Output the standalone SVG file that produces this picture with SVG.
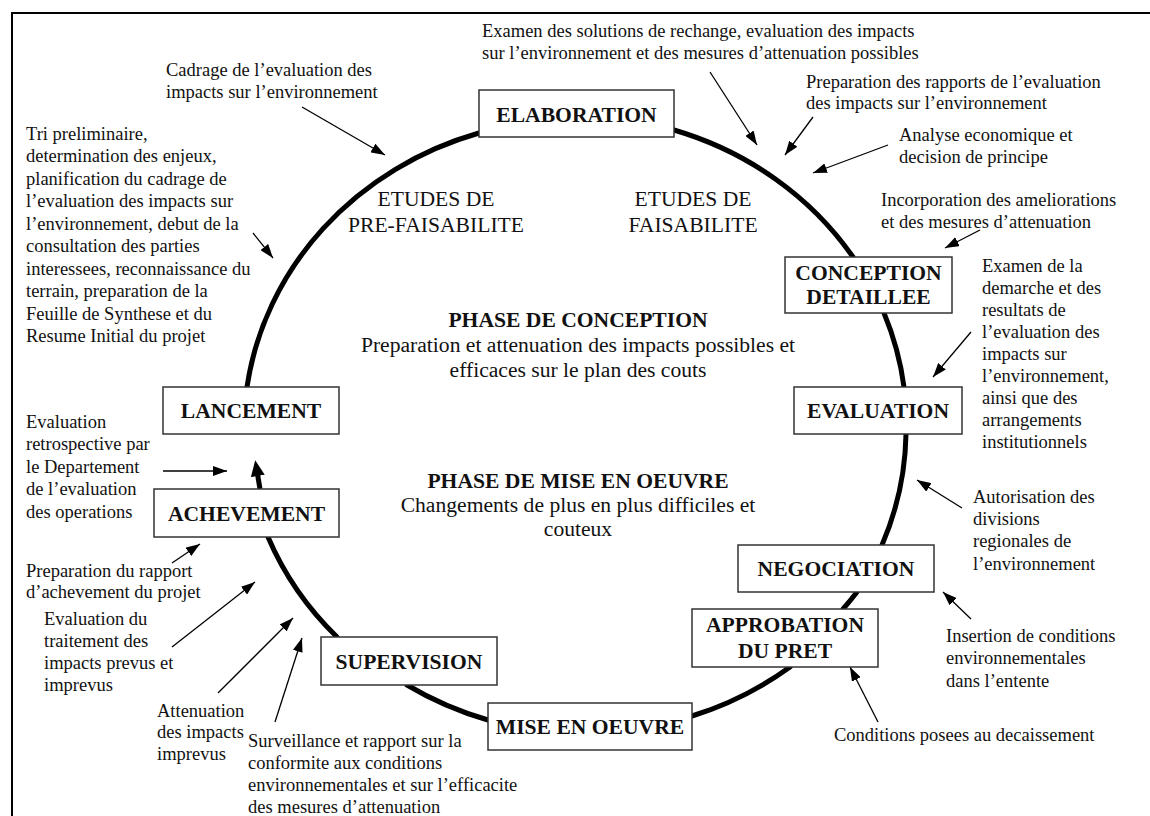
<svg xmlns="http://www.w3.org/2000/svg" width="1150" height="816" viewBox="0 0 1150 816">
<style>
text{font-family:"Liberation Serif","Times New Roman",serif;fill:#111}
.ann{font-size:18.5px}
.big{font-size:21.6px;text-anchor:middle}
.lbl{font-size:21.6px;font-weight:bold;text-anchor:middle}
.head{font-size:21.6px;font-weight:bold;text-anchor:middle}
.box{fill:#fff;stroke:#333;stroke-width:1.5}
.ring{fill:none;stroke:#000;stroke-width:5;stroke-linecap:round}
.arr{fill:none;stroke:#000;stroke-width:1.3;marker-end:url(#ah)}
</style>
<defs>
<marker id="ah" markerUnits="userSpaceOnUse" markerWidth="14" markerHeight="10" refX="14" refY="5" orient="auto"><path d="M0,0 L14,5 L0,10 z" fill="#000"/></marker>
<marker id="rh" markerUnits="userSpaceOnUse" markerWidth="16" markerHeight="14" refX="2" refY="7" orient="auto"><path d="M0,0 L16,7 L0,14 z" fill="#000"/></marker>
</defs>
<rect width="1150" height="816" fill="#fff"/>
<path d="M12,816 L12,13 L1150,13" fill="none" stroke="#000" stroke-width="2"/>

<g id="connectors">
<path class="ring" d="M247,387 A332,310 0 0 1 479,133"/>
<path class="ring" d="M674,130 A332,310 0 0 1 853,257"/>
<path class="ring" d="M884,313 A332,310 0 0 1 904,387"/>
<path class="ring" d="M906,434 A332,310 0 0 1 882,545"/>
<path class="ring" d="M857,592 A332,310 0 0 1 843,609"/>
<path class="ring" d="M790,667 A332,310 0 0 1 692,716"/>
<path class="ring" d="M488,720 A332,310 0 0 1 407,685"/>
<path class="ring" d="M337,637 A332,310 0 0 1 268,537"/>
<path d="M260,489 L257.5,474" fill="none" stroke="#000" stroke-width="5" marker-end="url(#rh)"/>
<path class="arr" d="M302,107 L385,155"/>
<path class="arr" d="M253,233 L273,258"/>
<path class="arr" d="M710,72 L757,145"/>
<path class="arr" d="M813,117 L785,155"/>
<path class="arr" d="M888,145 L813,173"/>
<path class="arr" d="M980,230 L945,248"/>
<path class="arr" d="M971,332 L933,377"/>
<path class="arr" d="M962,508 L917,480"/>
<path class="arr" d="M971,619 L943,592"/>
<path class="arr" d="M878,722 L850,667"/>
<path class="arr" d="M163,471 L227,471"/>
<path class="arr" d="M172,563 L200,544"/>
<path class="arr" d="M172,647 L255,582"/>
<path class="arr" d="M218,693 L293,618"/>
<path class="arr" d="M275,722 L302,638"/>
</g>

<g id="n-elaboration"><rect class="box" x="479" y="90" width="195" height="47"/><text class="lbl" x="576.5" y="121.5">ELABORATION</text></g>
<g id="n-conception"><rect class="box" x="785" y="257" width="167" height="56"/><text class="lbl" x="868.5" y="280">CONCEPTION</text><text class="lbl" x="868.5" y="304">DETAILLEE</text></g>
<g id="n-evaluation"><rect class="box" x="794" y="387" width="168" height="47"/><text class="lbl" x="878" y="418">EVALUATION</text></g>
<g id="n-negociation"><rect class="box" x="738" y="545" width="196" height="47"/><text class="lbl" x="836" y="576">NEGOCIATION</text></g>
<g id="n-approbation"><rect class="box" x="692" y="609" width="186" height="58"/><text class="lbl" x="785" y="632">APPROBATION</text><text class="lbl" x="785" y="658">DU PRET</text></g>
<g id="n-mise"><rect class="box" x="488" y="703" width="204" height="47"/><text class="lbl" x="590" y="734">MISE EN OEUVRE</text></g>
<g id="n-supervision"><rect class="box" x="321" y="637" width="176" height="48"/><text class="lbl" x="409" y="669">SUPERVISION</text></g>
<g id="n-achevement"><rect class="box" x="154" y="489" width="185" height="48"/><text class="lbl" x="246.5" y="521">ACHEVEMENT</text></g>
<g id="n-lancement"><rect class="box" x="163" y="387" width="176" height="47"/><text class="lbl" x="251" y="418">LANCEMENT</text></g>

<g id="center-texts">
<text class="big" x="436" y="206">ETUDES DE</text>
<text class="big" x="436" y="232">PRE-FAISABILITE</text>
<text class="big" x="693" y="206">ETUDES DE</text>
<text class="big" x="693" y="232">FAISABILITE</text>
<text class="head" x="578" y="327">PHASE DE CONCEPTION</text>
<text class="big" x="578" y="352">Preparation et attenuation des impacts possibles et</text>
<text class="big" x="578" y="377">efficaces sur le plan des couts</text>
<text class="head" x="578" y="488">PHASE DE MISE EN OEUVRE</text>
<text class="big" x="578" y="512">Changements de plus en plus difficiles et</text>
<text class="big" x="578" y="536">couteux</text>
</g>

<g id="annotations" class="ann">
<text x="166" y="76">Cadrage de l’evaluation des</text>
<text x="166" y="98">impacts sur l’environnement</text>

<text x="26" y="140">Tri preliminaire,</text>
<text x="26" y="162.4">determination des enjeux,</text>
<text x="26" y="184.9">planification du cadrage de</text>
<text x="26" y="207.3">l’evaluation des impacts sur</text>
<text x="26" y="229.8">l’environnement, debut de la</text>
<text x="26" y="252.2">consultation des parties</text>
<text x="26" y="274.7">interessees, reconnaissance du</text>
<text x="26" y="297.1">terrain, preparation de la</text>
<text x="26" y="319.6">Feuille de Synthese et du</text>
<text x="26" y="342">Resume Initial du projet</text>

<text x="482" y="37">Examen des solutions de rechange, evaluation des impacts</text>
<text x="482" y="59">sur l’environnement et des mesures d’attenuation possibles</text>

<text x="806" y="88">Preparation des rapports de l’evaluation</text>
<text x="806" y="109">des impacts sur l’environnement</text>

<text x="899" y="141">Analyse economique et</text>
<text x="899" y="163">decision de principe</text>

<text x="881" y="206">Incorporation des ameliorations</text>
<text x="881" y="228">et des mesures d’attenuation</text>

<text x="982" y="272">Examen de la</text>
<text x="982" y="294">demarche et des</text>
<text x="982" y="316">resultats de</text>
<text x="982" y="338">l’evaluation des</text>
<text x="982" y="360">impacts sur</text>
<text x="982" y="382">l’environnement,</text>
<text x="982" y="404">ainsi que des</text>
<text x="982" y="426">arrangements</text>
<text x="982" y="448">institutionnels</text>

<text x="973" y="503">Autorisation des</text>
<text x="973" y="525">divisions</text>
<text x="973" y="547">regionales de</text>
<text x="973" y="570">l’environnement</text>

<text x="946" y="642">Insertion de conditions</text>
<text x="946" y="664">environnementales</text>
<text x="946" y="687">dans l’entente</text>

<text x="834" y="741">Conditions posees au decaissement</text>

<text x="26" y="428">Evaluation</text>
<text x="26" y="450.4">retrospective par</text>
<text x="26" y="472.8">le Departement</text>
<text x="26" y="495.2">de l’evaluation</text>
<text x="26" y="517.6">des operations</text>

<text x="26" y="577">Preparation du rapport</text>
<text x="26" y="598">d’achevement du projet</text>

<text x="44" y="625">Evaluation du</text>
<text x="44" y="647">traitement des</text>
<text x="44" y="669">impacts prevus et</text>
<text x="44" y="691">imprevus</text>

<text x="157" y="717">Attenuation</text>
<text x="157" y="738">des impacts</text>
<text x="157" y="760">imprevus</text>

<text x="248" y="747">Surveillance et rapport sur la</text>
<text x="248" y="769">conformite aux conditions</text>
<text x="248" y="791">environnementales et sur l’efficacite</text>
<text x="248" y="813">des mesures d’attenuation</text>
</g>
</svg>
